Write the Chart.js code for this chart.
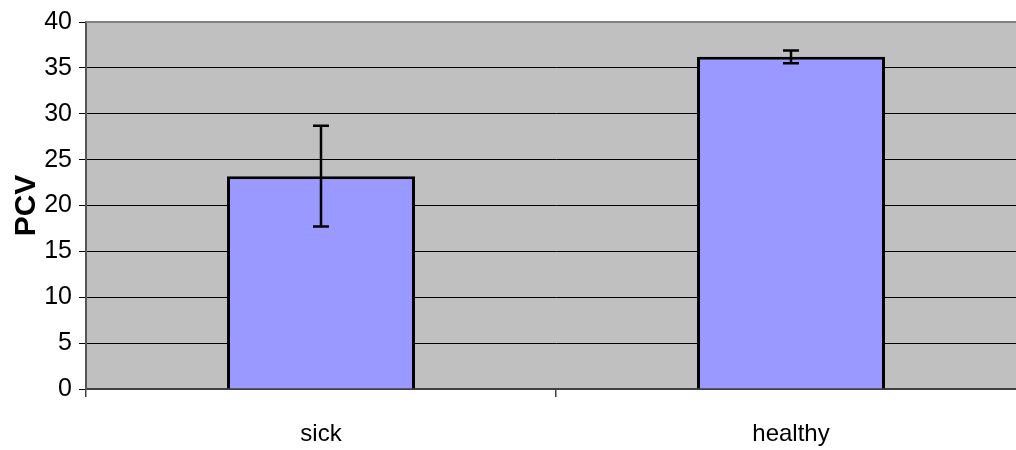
<!DOCTYPE html>
<html>
<head>
<meta charset="utf-8">
<script src="https://cdn.jsdelivr.net/npm/chart.js@4"></script>
<style>
    html, body { margin: 0; padding: 0; background: #ffffff; overflow: hidden; }
    #wrap { width: 1026px; height: 450px; position: relative; }
</style>
</head>
<body>
<div id="wrap"><canvas id="pcvChart"></canvas></div>
<script>
const categories = ['sick', 'healthy'];
const pcvMeans = [23.2, 36.2];
const pcvErrors = [5.5, 0.7];
const yTicks = [0, 5, 10, 15, 20, 25, 30, 35, 40];

// Gray plot background, drawn like the old spreadsheet chart
const plotBackground = {
    id: 'plotBackground',
    beforeDraw(chart) {
        const { ctx, chartArea } = chart;
        ctx.save();
        ctx.fillStyle = '#c0c0c0';
        ctx.fillRect(chartArea.left, chartArea.top, chartArea.right - chartArea.left, chartArea.bottom - chartArea.top);
        ctx.restore();
    },
    afterDraw(chart) {
        // gray top border sits over the 40 gridline
        const { ctx, chartArea } = chart;
        ctx.save();
        ctx.strokeStyle = '#808080';
        ctx.lineWidth = 2;
        ctx.beginPath();
        ctx.moveTo(chartArea.left, chartArea.top);
        ctx.lineTo(chartArea.right, chartArea.top);
        ctx.stroke();
        ctx.restore();
    }
};

// Error bars from the errors array
const errorBars = {
    id: 'errorBars',
    afterDatasetsDraw(chart) {
        const { ctx } = chart;
        const yScale = chart.scales.y;
        const meta = chart.getDatasetMeta(0);
        ctx.save();
        ctx.strokeStyle = '#000000';
        ctx.lineWidth = 2.5;
        meta.data.forEach((bar, i) => {
            const top = yScale.getPixelForValue(pcvMeans[i] + pcvErrors[i]);
            const bottom = yScale.getPixelForValue(pcvMeans[i] - pcvErrors[i]);
            const cap = 8;
            ctx.beginPath();
            ctx.moveTo(bar.x, top);
            ctx.lineTo(bar.x, bottom);
            ctx.moveTo(bar.x - cap, top);
            ctx.lineTo(bar.x + cap, top);
            ctx.moveTo(bar.x - cap, bottom);
            ctx.lineTo(bar.x + cap, bottom);
            ctx.stroke();
        });
        ctx.restore();
    }
};

const ctx = document.getElementById('pcvChart').getContext('2d');
new Chart(ctx, {
    type: 'bar',
    data: {
        labels: categories,
        datasets: [{
            label: 'PCV',
            data: pcvMeans,
            backgroundColor: '#9999ff',
            borderColor: '#000000',
            borderWidth: 3,
            categoryPercentage: 1,
            barPercentage: 0.40
        }]
    },
    options: {
        responsive: true,
        maintainAspectRatio: false,
        animation: false,
        layout: { padding: { top: 21, right: 0, left: 0, bottom: 0 } },
        plugins: {
            legend: { display: false },
            tooltip: { enabled: false }
        },
        scales: {
            x: {
                grid: {
                    offset: true,
                    drawOnChartArea: false,
                    color: '#404040',
                    lineWidth: 1.5,
                    tickLength: 8
                },
                border: { display: true, color: '#404040', width: 2 },
                ticks: {
                    color: '#000000',
                    padding: 23,
                    font: { family: 'Liberation Sans', size: 24 }
                },
                afterFit(axis) { axis.height = 61; }
            },
            y: {
                min: 0,
                max: 40,
                afterBuildTicks(axis) { axis.ticks = yTicks.map(v => ({ value: v })); },
                grid: {
                    color: '#000000',
                    lineWidth: 1,
                    tickLength: 7
                },
                border: { display: true, color: '#555555', width: 2 },
                ticks: {
                    color: '#000000',
                    padding: 7,
                    font: { family: 'Liberation Sans', size: 25 }
                },
                title: {
                    display: true,
                    text: 'PCV',
                    color: '#000000',
                    padding: { top: 9, bottom: 0 },
                    font: { family: 'Liberation Sans', size: 30, weight: 'bold' }
                },
                afterFit(axis) { axis.width = 86; }
            }
        }
    },
    plugins: [plotBackground, errorBars]
});
</script>
</body>
</html>
